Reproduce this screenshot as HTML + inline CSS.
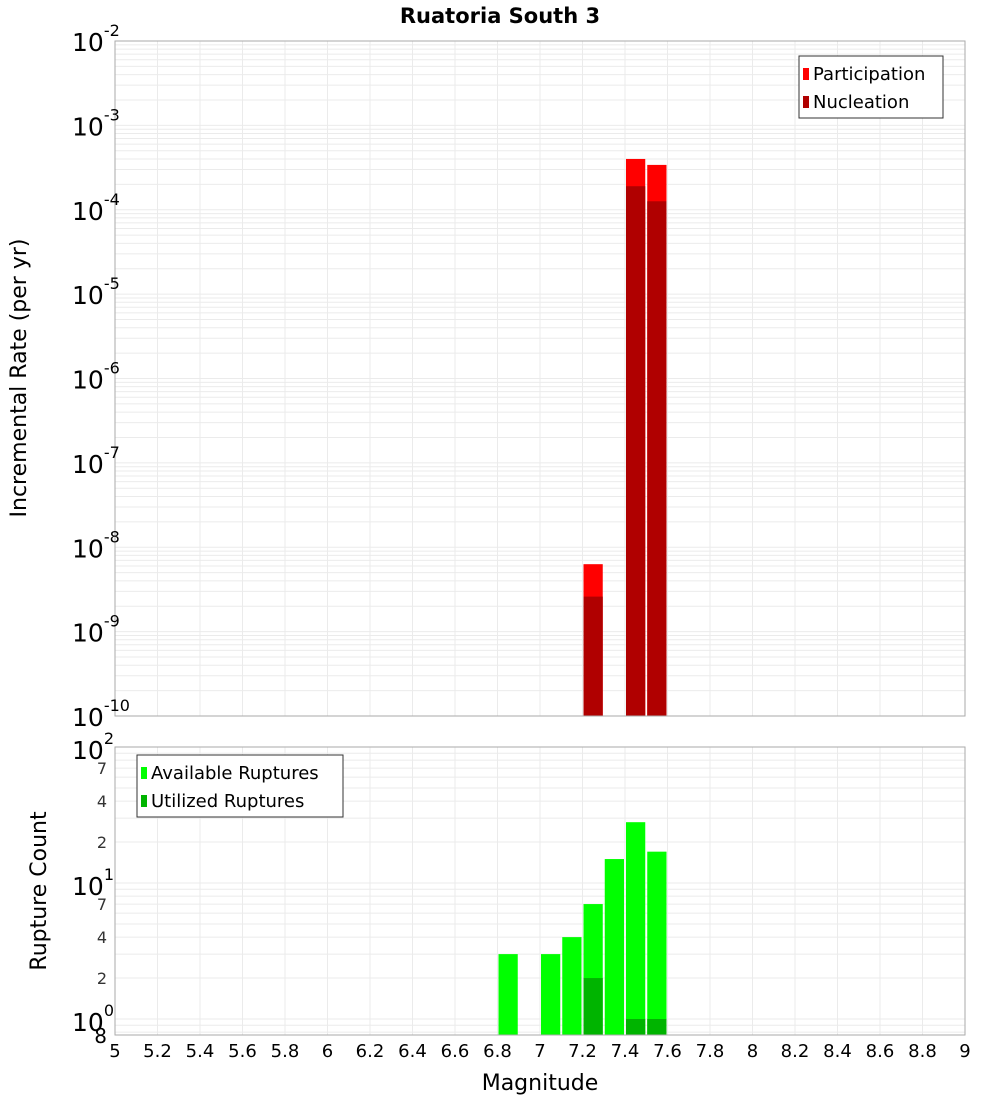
<!DOCTYPE html>
<html><head><meta charset="utf-8"><style>
body{margin:0;background:#fff;}
svg{display:block;font-family:"DejaVu Sans","Liberation Sans",sans-serif;}
</style></head><body>
<svg id="chart" width="1000" height="1100"></svg>
<script>
const mags=[6.85,7.05,7.15,7.25,7.35,7.45,7.55];
const participation=[0,0,0,6.3e-9,0,4.0e-4,3.4e-4];
const nucleation=[0,0,0,2.6e-9,0,1.9e-4,1.26e-4];
const available=[3,3,4,7,15,28,17];
const utilized=[0,0,0,2,0,1,1];
const xTicks=[5,5.2,5.4,5.6,5.8,6,6.2,6.4,6.6,6.8,7,7.2,7.4,7.6,7.8,8,8.2,8.4,8.6,8.8,9];
const topExps=[-10,-9,-8,-7,-6,-5,-4,-3,-2];
const botMinor=[2,4,7];

const NS="http://www.w3.org/2000/svg";
const svg=document.getElementById('chart');
function el(tag,attrs,parent){const e=document.createElementNS(NS,tag);for(const k in attrs)e.setAttribute(k,attrs[k]);(parent||svg).appendChild(e);return e;}
const X0=115,X1=965;
const xs=m=>X0+(m-5)/4*(X1-X0);
const T0=41,T1=716;
const yTop=v=>T1-(Math.log10(v)+10)/8*(T1-T0);
const B0=747,B1=1035,BD=136,BONE=1019;
const yBot=v=>BONE-Math.log10(v)*BD;

// title
const title=el('text',{x:500,y:23,'text-anchor':'middle','font-size':21,'font-weight':'bold'});
title.textContent='Ruatoria South 3';



function grid(y0,y1,yfun,minV,maxV,name){
  const g=el('g',{});
  
  
  xTicks.forEach(t=>el('line',{x1:xs(t),x2:xs(t),y1:y0,y2:y1,stroke:'#ebebeb','stroke-width':1},g));
  for(let d=Math.floor(Math.log10(minV));d<=Math.ceil(Math.log10(maxV));d++){
    for(let k=1;k<10;k++){const v=k*Math.pow(10,d);if(v<minV||v>maxV)continue;const y=yfun(v);
      el('line',{x1:X0,x2:X1,y1:y,y2:y,stroke:'#ebebeb','stroke-width':1},g);}
  }
}
grid(T0,T1,yTop,1e-10,1e-2,'top-grid');
grid(B0,B1,yBot,0.763,100,'bottom-grid');

// top bars
mags.forEach((m,i)=>{
  const x=xs(m-0.05)+1,w=xs(m+0.05)-xs(m-0.05)-2;
  if(participation[i]>0){const r=el('rect',{x,y:yTop(participation[i]),width:w,height:T1-yTop(participation[i]),fill:'#ff0000'});
    }
  if(nucleation[i]>0){const r=el('rect',{x,y:yTop(nucleation[i]),width:w,height:T1-yTop(nucleation[i]),fill:'#b00000'});
    }
  if(available[i]>0){const r=el('rect',{x,y:yBot(available[i]),width:w,height:B1-yBot(available[i]),fill:'#00ff00'});
    }
  if(utilized[i]>0){const r=el('rect',{x,y:yBot(utilized[i]),width:w,height:B1-yBot(utilized[i]),fill:'#00b400'});
    }
});

// frames
const f1=el('rect',{x:X0,y:T0,width:X1-X0,height:T1-T0,fill:'none',stroke:'#aaa'});

const f2=el('rect',{x:X0,y:B0,width:X1-X0,height:B1-B0,fill:'none',stroke:'#aaa'});


// top y ticks
topExps.forEach(e=>{
  const y=yTop(Math.pow(10,e));
  const t=el('text',{x:72,y:y+10,'font-size':25});
  
  t.textContent='10';
  const s=el('tspan',{dy:-15,'font-size':16},t);s.textContent=String(e);
});
// bottom y ticks
[2,1,0].forEach(e=>{
  const y=yBot(Math.pow(10,e));
  const t=el('text',{x:72,y:y+12,'font-size':25});
  
  t.textContent='10';
  const s=el('tspan',{dy:-15,'font-size':16},t);s.textContent=String(e);
});
[1,10].forEach(d=>botMinor.forEach(k=>{
  const t=el('text',{x:107,y:yBot(k*d)+6,'text-anchor':'end','font-size':16,fill:'#333'});
  
  t.textContent=String(k);
}));
const t8=el('text',{x:107,y:1043,'text-anchor':'end','font-size':20});

t8.textContent='8';

// x ticks
xTicks.forEach(v=>{
  const t=el('text',{x:xs(v),y:1057,'text-anchor':'middle','font-size':18});
  
  t.textContent=String(v);
});
const xl=el('text',{x:540,y:1090,'text-anchor':'middle','font-size':22});

xl.textContent='Magnitude';
const yl1=el('text',{x:0,y:0,'text-anchor':'middle','font-size':22,transform:'translate(26,378) rotate(-90)'});

yl1.textContent='Incremental Rate (per yr)';
const yl2=el('text',{x:0,y:0,'text-anchor':'middle','font-size':22,transform:'translate(46,891) rotate(-90)'});

yl2.textContent='Rupture Count';

function legend(x,y,w,items,name){
  const g=el('g',{});
  
  el('rect',{x,y,width:w,height:62,fill:'#fff',stroke:'#333'},g);
  items.forEach((it,i)=>{
    el('rect',{x:x+4,y:y+12+i*28,width:6,height:12,fill:it[1]},g);
    const t=el('text',{x:x+14,y:y+24+i*28,'font-size':18},g);
    
    t.textContent=it[0];
  });
}
legend(799,56,144,[['Participation','#ff0000'],['Nucleation','#b00000']],'top-legend');
legend(137,755,206,[['Available Ruptures','#00ff00'],['Utilized Ruptures','#00b400']],'bottom-legend');
</script>
</body></html>
